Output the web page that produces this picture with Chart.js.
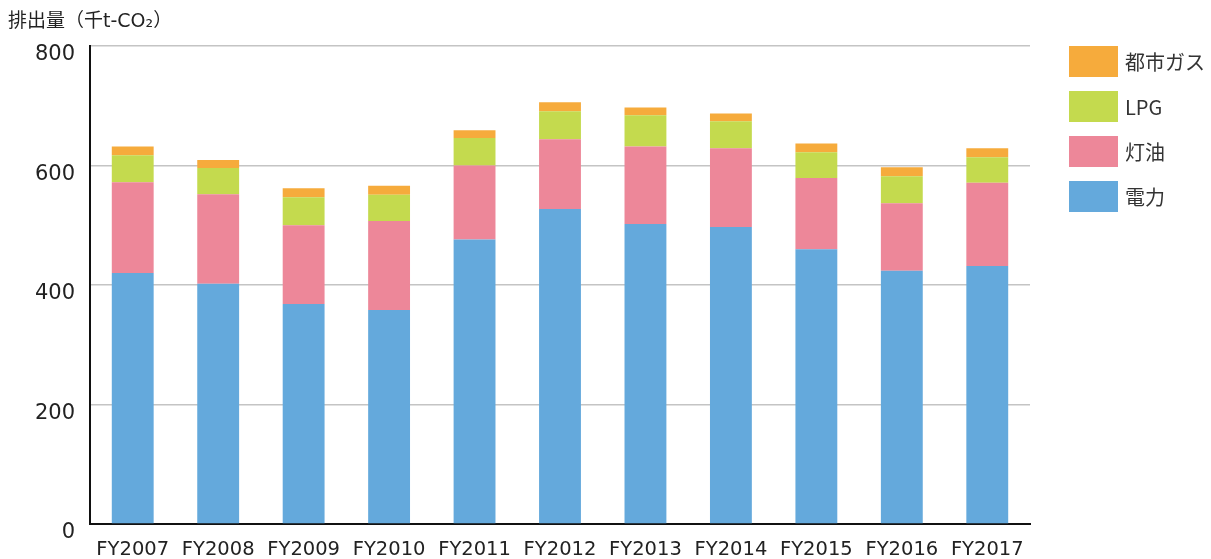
<!DOCTYPE html>
<html>
<head>
<meta charset="utf-8">
<script src="https://cdn.jsdelivr.net/npm/chart.js@4/dist/chart.umd.min.js"></script>
<style>
  html, body { margin: 0; padding: 0; background: #fff; }
  #wrap { width: 1211px; height: 559px; position: relative; }
</style>
</head>
<body>
<div id="wrap"><canvas id="chart"></canvas></div>
<script>
const years = ['FY2007', 'FY2008', 'FY2009', 'FY2010', 'FY2011', 'FY2012', 'FY2013', 'FY2014', 'FY2015', 'FY2016', 'FY2017'];
const electricity = [420, 402, 368, 358, 476, 527, 502, 497, 460, 424, 432];
const kerosene = [152, 150, 132, 149, 124, 117, 130, 132, 119, 113, 139];
const lpg = [45, 44, 47, 44, 46, 47, 52, 45, 43, 45, 43];
const cityGas = [15, 13, 15, 15, 13, 15, 13, 13, 15, 15, 15];
const yTicks = [0, 200, 400, 600, 800];

const unitLabel = '排出量（千t-CO₂）';
const JP_FONT = '"DejaVu Sans", "Noto Sans CJK JP", sans-serif';

// title + legend drawn on the canvas, legend order is top → bottom like the original
const sideLegend = {
  id: 'sideLegend',
  afterDraw(chart) {
    const { ctx, chartArea } = chart;
    ctx.save();
    ctx.fillStyle = '#222';
    ctx.font = '19px ' + JP_FONT;
    ctx.textBaseline = 'middle';
    ctx.textAlign = 'left';
    ctx.fillText(unitLabel, 8, 22);

    const items = chart.data.datasets.slice().reverse();
    const x = chartArea.right + 39;
    items.forEach((ds, i) => {
      const y = chartArea.top + i * 45;
      ctx.fillStyle = ds.backgroundColor;
      ctx.fillRect(x, y, 49, 31);
      ctx.fillStyle = '#333';
      ctx.font = '20px "Noto Sans CJK JP", sans-serif';
      ctx.fillText(ds.label, x + 56, y + 16);
    });
    ctx.restore();
  }
};

new Chart(document.getElementById('chart'), {
  type: 'bar',
  data: {
    labels: years,
    datasets: [
      { label: '電力', data: electricity, backgroundColor: '#64a9dc' },
      { label: '灯油', data: kerosene, backgroundColor: '#ed8799' },
      { label: 'LPG', data: lpg, backgroundColor: '#c4da4e' },
      { label: '都市ガス', data: cityGas, backgroundColor: '#f6ab3c' }
    ]
  },
  options: {
    responsive: true,
    maintainAspectRatio: false,
    animation: false,
    layout: { padding: { left: 10, right: 181, top: 46, bottom: 0 } },
    datasets: { bar: { categoryPercentage: 1, barPercentage: 0.49, borderWidth: 0 } },
    scales: {
      x: {
        stacked: true,
        grid: { display: false, drawTicks: false },
        border: { color: '#111', width: 2 },
        ticks: { color: '#222', font: { family: JP_FONT, size: 19.5 }, padding: 14, maxRotation: 0 },
        afterFit: s => { s.height = 35; s.paddingLeft = 0; s.paddingRight = 0; }
      },
      y: {
        stacked: true,
        min: 0,
        max: 800,
        afterBuildTicks: s => { s.ticks = yTicks.map(v => ({ value: v })); },
        grid: { color: '#c4c4c4', lineWidth: 1.5, drawTicks: false },
        border: { color: '#111', width: 2 },
        ticks: { color: '#222', font: { family: JP_FONT, size: 21 }, padding: 15, labelOffset: 9 },
        afterFit: s => { s.width = 80; s.paddingTop = 0; s.paddingBottom = 0; }
      }
    },
    plugins: {
      legend: { display: false },
      tooltip: { enabled: false }
    }
  },
  plugins: [sideLegend]
});
</script>
</body>
</html>
